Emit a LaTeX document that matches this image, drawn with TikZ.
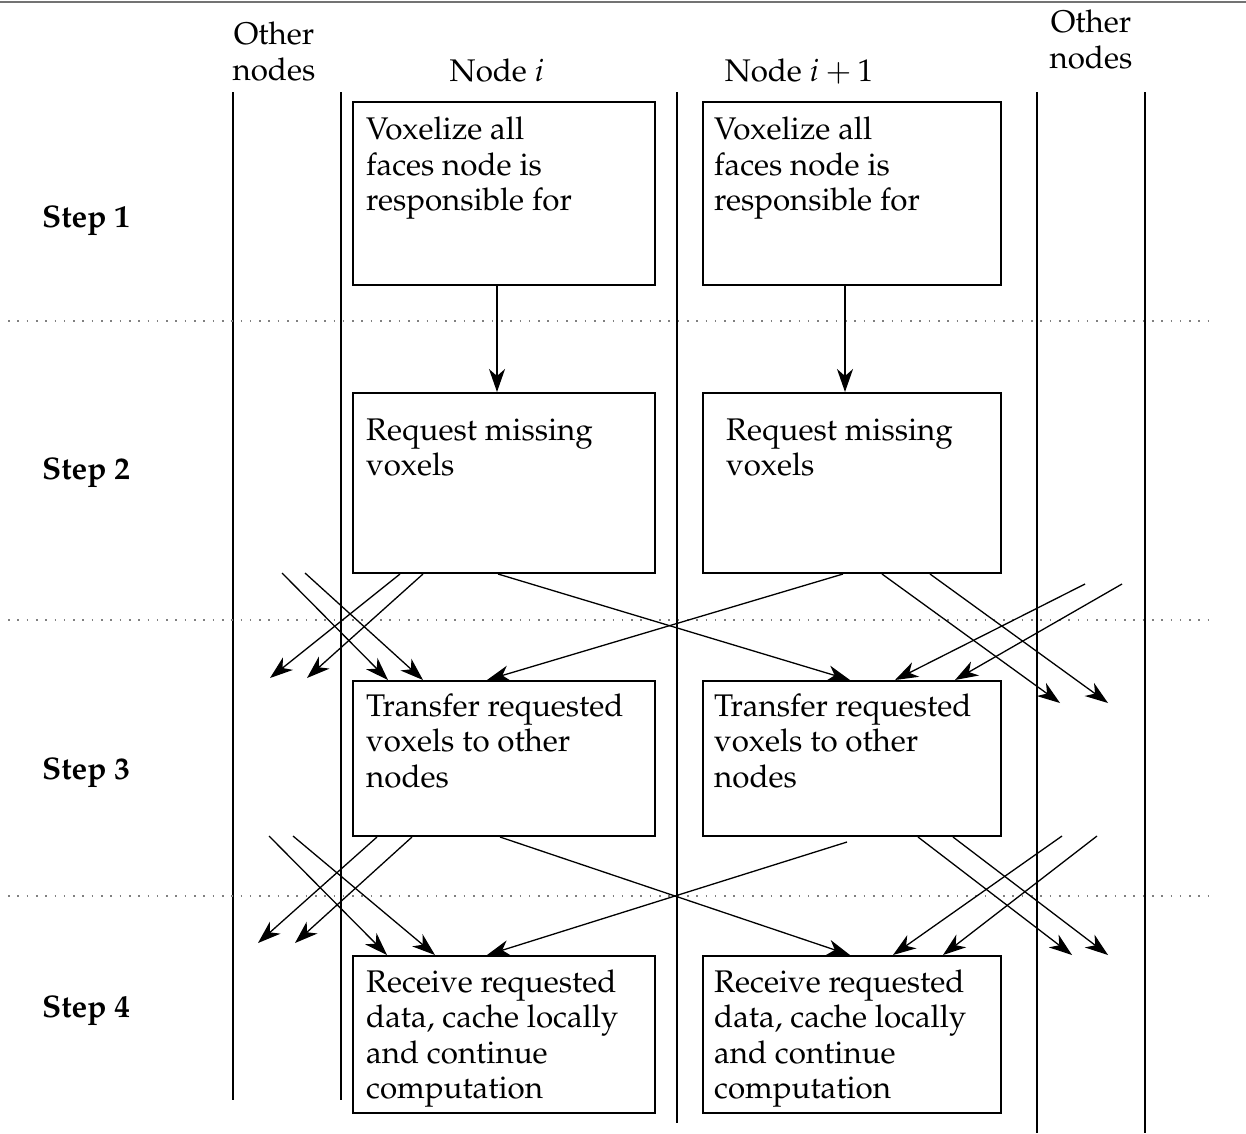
\documentclass[tikz,border=0pt]{standalone}
\usepackage[T1]{fontenc}
\usepackage{mathpazo}
\usetikzlibrary{arrows.meta,calc}

\newcommand{\boxfont}{\fontsize{31.3}{35.5}\selectfont}

\begin{document}
\begin{tikzpicture}[x=1pt,y=-1pt,
  lane/.style={line width=2pt},
  stepbox/.style={draw, line width=2pt, anchor=north west, inner sep=0pt},
  txt/.style={anchor=base west, inner sep=0pt, align=left, font=\boxfont},
  head/.style={anchor=base, inner sep=0pt, align=center, font=\boxfont},
  steplabel/.style={anchor=base west, inner sep=0pt, font=\boxfont\bfseries},
  divider/.style={line width=1.6pt, gray, dash pattern=on 1.6pt off 7.7pt},
  flow/.style={line width=1.3pt, -{Stealth[length=23pt, width=16pt, inset=7pt]}}]

\useasboundingbox (0,0) rectangle (1246,1133);

% rule along the top edge
\draw[line width=2.5pt, black!55] (0,2) -- (1246,2);

% lanes
\draw[lane] (233,92) -- (233,1100);
\draw[lane] (341,92) -- (341,1100);
\draw[lane] (677,92) -- (677,1123);
\draw[lane] (1037,92) -- (1037,1133);
\draw[lane] (1145,92) -- (1145,1133);

% step separators
\foreach \yy in {321,620,896}
  \draw[divider] (8,\yy) -- (1212,\yy);

% column headings (anchored at the baseline of the last line)
\node[head] (hOL) at (274,80) {Other\\nodes};
\node[head] (hA) at (497,81) {Node $i$};
\node[head] (hB) at (799,81) {Node $i+1$};
\node[head] (hOR) at (1091,68) {Other\\nodes};

% step labels
\node[steplabel] (s1) at (42,227) {Step 1};
\node[steplabel] (s2) at (42,479) {Step 2};
\node[steplabel] (s3) at (42,779) {Step 3};
\node[steplabel] (s4) at (42,1017) {Step 4};

% boxes
\node[stepbox, minimum width=302pt, minimum height=183pt] (A1) at (352,101) {};
\node[stepbox, minimum width=298pt, minimum height=183pt] (B1) at (702,101) {};
\node[stepbox, minimum width=302pt, minimum height=180pt] (A2) at (352,392) {};
\node[stepbox, minimum width=298pt, minimum height=180pt] (B2) at (702,392) {};
\node[stepbox, minimum width=302pt, minimum height=155pt] (A3) at (352,680) {};
\node[stepbox, minimum width=298pt, minimum height=155pt] (B3) at (702,680) {};
\node[stepbox, minimum width=302pt, minimum height=157pt] (A4) at (352,955) {};
\node[stepbox, minimum width=298pt, minimum height=157pt] (B4) at (702,955) {};

% box texts (anchored at the baseline of the last line)
\node[txt] (tA1) at (366,210.5) {Voxelize all\\faces node is\\responsible for};
\node[txt] (tB1) at (714,210.5) {Voxelize all\\faces node is\\responsible for};
\node[txt] (tA2) at (366,475.5) {Request missing\\voxels};
\node[txt] (tB2) at (726,475.5) {Request missing\\voxels};
\node[txt] (tA3) at (366,787) {Transfer requested\\voxels to other\\nodes};
\node[txt] (tB3) at (714,787) {Transfer requested\\voxels to other\\nodes};
\node[txt] (tA4) at (366,1098.5) {Receive requested\\data, cache locally\\and continue\\computation};
\node[txt] (tB4) at (714,1098.5) {Receive requested\\data, cache locally\\and continue\\computation};

% free ends towards / from the other nodes
\coordinate (oA23a) at (270,678);
\coordinate (oA23b) at (307,678);
\coordinate (iA23a) at (282,573);
\coordinate (iA23b) at (305,573);
\coordinate (oB23a) at (1060,703);
\coordinate (oB23b) at (1108,703);
\coordinate (iB23a) at (1085,584);
\coordinate (iB23b) at (1122,584);
\coordinate (oA34a) at (258,943);
\coordinate (oA34b) at (295,943);
\coordinate (iA34a) at (269,836);
\coordinate (iA34b) at (293,836);
\coordinate (oB34a) at (1072,955);
\coordinate (oB34b) at (1108,955);
\coordinate (iB34a) at (1062,836);
\coordinate (iB34b) at (1097,836);

% step 1 -> step 2
\draw[flow] ($(A1.south west)+(145,0)$) -- ($(A2.north west)+(145,0)$);
\draw[flow] ($(B1.south west)+(143,0)$) -- ($(B2.north west)+(143,0)$);

% step 2 -> step 3
\draw[flow] ($(A2.south west)+(48,0)$) -- (oA23a);
\draw[flow] ($(A2.south west)+(71,0)$) -- (oA23b);
\draw[flow] (iA23a) -- ($(A3.north west)+(36,0)$);
\draw[flow] (iA23b) -- ($(A3.north west)+(71,0)$);
\draw[flow] ($(A2.south west)+(146,0)$) -- ($(B3.north west)+(148,0)$);
\draw[flow] ($(B2.south west)+(141,0)$) -- ($(A3.north west)+(135,0)$);
\draw[flow] ($(B2.south west)+(180,0)$) -- (oB23a);
\draw[flow] ($(B2.south west)+(228,0)$) -- (oB23b);
\draw[flow] (iB23a) -- ($(B3.north west)+(193,0)$);
\draw[flow] (iB23b) -- ($(B3.north west)+(253,0)$);

% step 3 -> step 4
\draw[flow] ($(A3.south west)+(25,0)$) -- (oA34a);
\draw[flow] ($(A3.south west)+(60,0)$) -- (oA34b);
\draw[flow] (iA34a) -- ($(A4.north west)+(35,0)$);
\draw[flow] (iA34b) -- ($(A4.north west)+(83,0)$);
\draw[flow] ($(A3.south west)+(148,0)$) -- ($(B4.north west)+(148,0)$);
\draw[flow] ($(B3.south west)+(145,5)$) -- ($(A4.north west)+(135,0)$);
\draw[flow] ($(B3.south west)+(216,0)$) -- (oB34a);
\draw[flow] ($(B3.south west)+(251,0)$) -- (oB34b);
\draw[flow] (iB34a) -- ($(B4.north west)+(191,0)$);
\draw[flow] (iB34b) -- ($(B4.north west)+(241,0)$);

\end{tikzpicture}
\end{document}
